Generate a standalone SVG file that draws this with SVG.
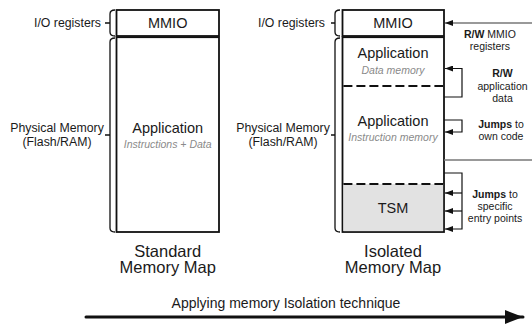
<svg xmlns="http://www.w3.org/2000/svg" width="532" height="326" viewBox="0 0 532 326">
<style>
text{font-family:"Liberation Sans",Arial,Helvetica,sans-serif;fill:#1a1a1a}
.box{fill:#fff;stroke:#111;stroke-width:1.8}
.tsm{fill:#e2e2e2;stroke:none}
.dash{stroke:#111;stroke-width:2;stroke-dasharray:9 4;fill:none}
.br{fill:none;stroke:#111;stroke-width:1.3}
.big{font-size:14.5px;text-anchor:middle}
.sub{font-size:10.5px;font-style:italic;fill:#8a8a8a;text-anchor:middle}
.side{font-size:12.3px}
.ann{font-size:10.5px;text-anchor:middle}
.cap{font-size:16.5px;text-anchor:middle}
.con{fill:none;stroke:#111;stroke-width:1.2}
.gray{fill:none;stroke:#777;stroke-width:1.4}
</style>
<defs>
<marker id="ah" viewBox="0 0 8 6" refX="8" refY="3" markerWidth="8" markerHeight="6" markerUnits="userSpaceOnUse" orient="auto">
<path d="M0,0 L8,3 L0,6 Z" fill="#111"/>
</marker>
<marker id="big" viewBox="0 0 18 14" refX="18" refY="7" markerWidth="18" markerHeight="14" markerUnits="userSpaceOnUse" orient="auto">
<path d="M0,0 L18,7 L0,14 Z" fill="#111"/>
</marker>
</defs>

<g id="standard-map">
<rect class="box" x="116.5" y="10" width="102.5" height="26"/>
<rect class="box" x="116.5" y="37.2" width="102.5" height="194.8"/>
<text class="big" x="167.7" y="28">MMIO</text>
<text class="big" x="167.7" y="133">Application</text>
<text class="sub" x="167.7" y="147.5">Instructions + Data</text>
<text class="cap" x="167.7" y="256.5">Standard</text>
<text class="cap" x="167.7" y="273">Memory Map</text>
</g>

<g id="standard-labels">
<path class="br" d="M115,10 Q110,10 110,14 V32 Q110,36 115,36 M110,23 H105"/>
<path class="br" d="M115,38 Q110,38 110,42 V228 Q110,232 115,232 M110,135 H105"/>
<text class="side" x="101" y="27" text-anchor="end">I/O registers</text>
<text class="side" x="57" y="132" text-anchor="middle">Physical Memory</text>
<text class="side" x="57" y="146" text-anchor="middle">(Flash/RAM)</text>
</g>

<g id="isolated-map">
<rect class="box" x="342.5" y="10" width="101.5" height="26"/>
<rect class="box" x="342.5" y="37.2" width="101.5" height="194.8"/>
<rect class="tsm" x="343.4" y="184" width="99.7" height="47.1"/>
<line class="dash" x1="343.4" y1="86" x2="443.1" y2="86"/>
<line class="dash" x1="343.4" y1="184" x2="443.1" y2="184"/>
<text class="big" x="393" y="28">MMIO</text>
<text class="big" x="393" y="58">Application</text>
<text class="sub" x="393" y="73.5">Data memory</text>
<text class="big" x="393" y="126">Application</text>
<text class="sub" x="393" y="141">Instruction memory</text>
<text class="big" x="393" y="213">TSM</text>
<text class="cap" x="393" y="256.5">Isolated</text>
<text class="cap" x="393" y="273">Memory Map</text>
</g>

<g id="isolated-labels">
<path class="br" d="M340,10 Q335,10 335,14 V32 Q335,36 340,36 M335,23 H331"/>
<path class="br" d="M340,38 Q335,38 335,42 V228 Q335,232 340,232 M335,135 H331"/>
<text class="side" x="325" y="27" text-anchor="end">I/O registers</text>
<text class="side" x="283" y="132" text-anchor="middle">Physical Memory</text>
<text class="side" x="283" y="146" text-anchor="middle">(Flash/RAM)</text>
</g>

<g id="connectors">
<line class="gray" x1="532" y1="23" x2="445" y2="23" marker-end="url(#ah)"/>
<path class="con" d="M444,97 H462 V68.5 H445" marker-end="url(#ah)"/>
<path class="con" d="M444,120 H462 V132 H445" marker-end="url(#ah)"/>
<line class="gray" x1="444" y1="160" x2="532" y2="160"/>
<path class="con" d="M444,173 H462 V229 H445" marker-end="url(#ah)"/>
<line class="con" x1="462" y1="193" x2="445" y2="193" marker-end="url(#ah)"/>
<line class="con" x1="462" y1="211" x2="445" y2="211" marker-end="url(#ah)"/>
<line x1="86" y1="317" x2="523" y2="317" stroke="#111" stroke-width="3" stroke-linecap="round" marker-end="url(#big)"/>
</g>

<g id="annotations">
<text class="ann" x="490" y="37.5"><tspan font-weight="bold">R/W</tspan> MMIO</text>
<text class="ann" x="490" y="49.5">registers</text>
<text class="ann" x="502.5" y="77" font-weight="bold">R/W</text>
<text class="ann" x="502.5" y="89.5">application</text>
<text class="ann" x="502.5" y="102">data</text>
<text class="ann" x="501" y="128"><tspan font-weight="bold">Jumps</tspan> to</text>
<text class="ann" x="501" y="140">own code</text>
<text class="ann" x="495" y="197.5"><tspan font-weight="bold">Jumps</tspan> to</text>
<text class="ann" x="495" y="209.5">specific</text>
<text class="ann" x="495" y="222">entry points</text>
<text x="286" y="307.5" font-size="14px" text-anchor="middle">Applying memory Isolation technique</text>
</g>
</svg>
